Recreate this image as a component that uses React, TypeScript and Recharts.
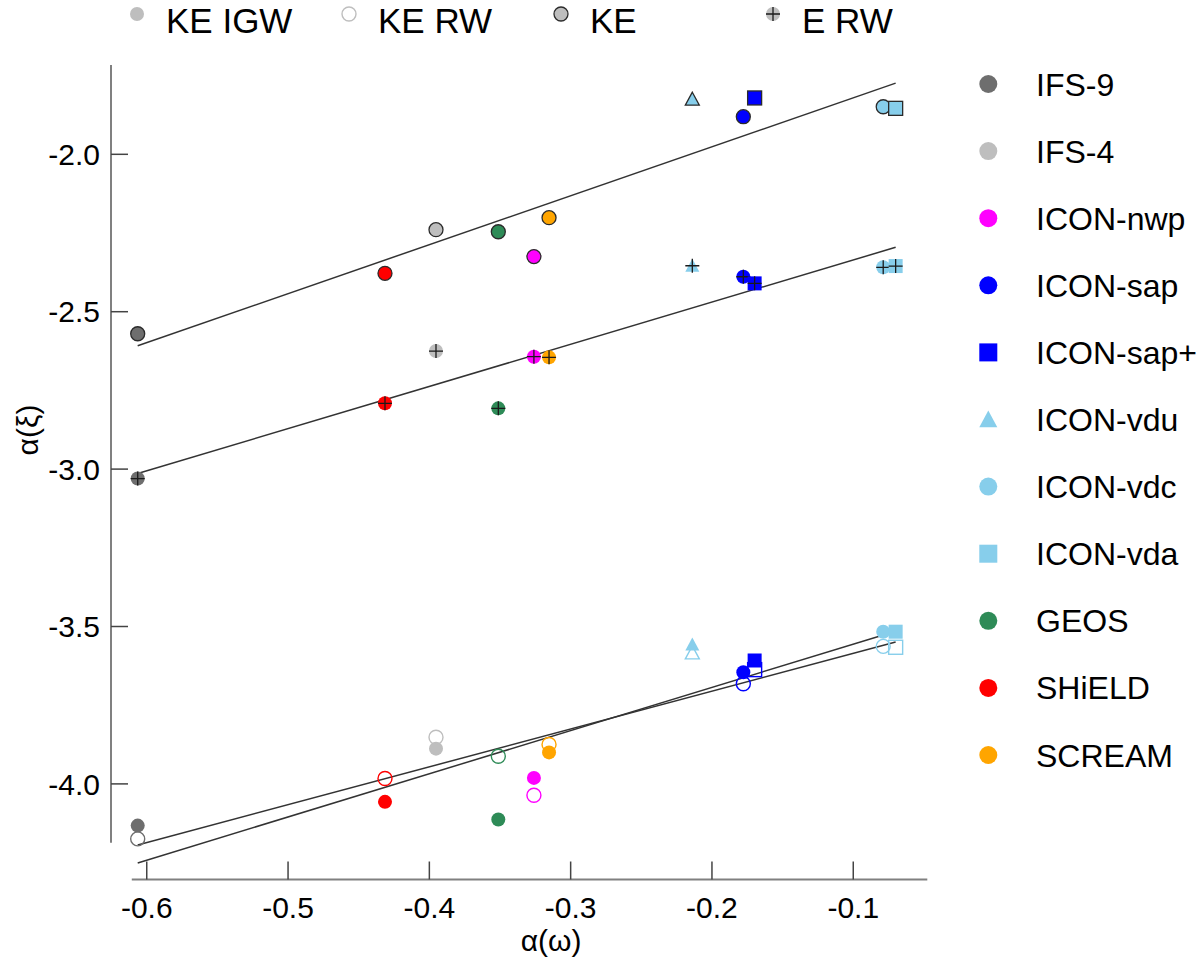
import { ScatterChart, Scatter, XAxis, YAxis, ReferenceLine } from "recharts";

const FONT = '"Liberation Sans", Arial, Helvetica, sans-serif';

// models, in legend order
const models = [
  "IFS-9",
  "IFS-4",
  "ICON-nwp",
  "ICON-sap",
  "ICON-sap+",
  "ICON-vdu",
  "ICON-vdc",
  "ICON-vda",
  "GEOS",
  "SHiELD",
  "SCREAM",
];
const modelColors = [
  "#6e6e6e",
  "#bebebe",
  "#ff00ff",
  "#0000ff",
  "#0000ff",
  "#87ceeb",
  "#87ceeb",
  "#87ceeb",
  "#2e8b57",
  "#ff0000",
  "#ffa500",
];
const modelShapes = [
  "circle",
  "circle",
  "circle",
  "circle",
  "square",
  "triangle",
  "circle",
  "square",
  "circle",
  "circle",
  "circle",
];

// alpha(omega) per model
const alphaOmega = [
  -0.6064, -0.3953, -0.326, -0.1778, -0.1698, -0.2139, -0.0788, -0.07, -0.3512,
  -0.4314, -0.3153,
];

// alpha(xi) per model, one list per quantity
const xiKE = [
  -2.57, -2.2395, -2.325, -1.8806, -1.821, -1.825, -1.849, -1.854, -2.246,
  -2.378, -2.2014,
];
const xiERW = [
  -3.03, -2.625, -2.643, -2.389, -2.41, -2.354, -2.359, -2.355, -2.807, -2.791,
  -2.645,
];
const xiKEIGW = [
  -4.1325, -3.888, -3.981, -3.6455, -3.608, -3.5575, -3.5165, -3.5165, -4.113,
  -4.057, -3.9,
];
const xiKERW = [
  -4.1747, -3.852, -4.036, -3.682, -3.637, -3.584, -3.563, -3.566, -3.912,
  -3.983, -3.875,
];

// fitted lines: end points
const fitX = [-0.6064, -0.07];
const fitKE = [-2.608, -1.774];
const fitERW = [-3.014, -2.2954];
const fitKEIGW = [-4.251, -3.515];
const fitKERW = [-4.194, -3.549];

const quantities = ["KE IGW", "KE RW", "KE", "E RW"];

const xTicks = [-0.6, -0.5, -0.4, -0.3, -0.2, -0.1];
const xTickLabels = ["-0.6", "-0.5", "-0.4", "-0.3", "-0.2", "-0.1"];
const yTicks = [-4.0, -3.5, -3.0, -2.5, -2.0];
const yTickLabels = ["-4.0", "-3.5", "-3.0", "-2.5", "-2.0"];

const xDomain = [-0.6253, -0.0476];
const yDomain = [-4.3037, -1.7163];

const toPoints = (ys) => alphaOmega.map((x, i) => ({ x, y: ys[i], i }));
const toLine = (ys) => fitX.map((x, i) => ({ x, y: ys[i] }));

const styles = {
  "KE IGW": { filled: true, outline: false, plus: false },
  "KE RW": { filled: false, outline: false, plus: false },
  KE: { filled: true, outline: true, plus: false },
  "E RW": { filled: true, outline: false, plus: true },
};

function Marker({ shape, cx, cy, size, color, kind }) {
  const st = styles[kind];
  const h = size / 2;
  const fill = st.filled ? color : "none";
  const stroke = st.outline ? "#2b2b2b" : st.filled ? "none" : color;
  const sw = st.outline ? 1.3 : 1.4;
  let body;
  if (shape === "square") {
    body = (
      <rect x={cx - h} y={cy - h} width={size} height={size} fill={fill} stroke={stroke} strokeWidth={sw} />
    );
  } else if (shape === "triangle") {
    body = (
      <polygon
        points={`${cx},${cy - h} ${cx + h},${cy + h * 0.85} ${cx - h},${cy + h * 0.85}`}
        fill={fill}
        stroke={stroke}
        strokeWidth={sw}
      />
    );
  } else {
    body = <circle cx={cx} cy={cy} r={h} fill={fill} stroke={stroke} strokeWidth={sw} />;
  }
  return (
    <g>
      {body}
      {st.plus && (
        <path
          d={`M${cx - h} ${cy}H${cx + h}M${cx} ${cy - h}V${cy + h}`}
          stroke="#1a1a1a"
          strokeWidth={1.3}
        />
      )}
    </g>
  );
}

const pointShape = (kind) => (props) => {
  const i = props.payload.i;
  return (
    <Marker
      shape={modelShapes[i]}
      cx={props.cx}
      cy={props.cy}
      size={14}
      color={modelColors[i]}
      kind={kind}
    />
  );
};

const XTick = ({ x, y, index }) => (
  <g>
    <line x1={x} y1={y} x2={x} y2={y - 18} stroke="#444" strokeWidth={1.5} />
    <text x={x} y={y + 38.5} textAnchor="middle" fontSize={30} fontFamily={FONT} fill="#000">
      {xTickLabels[index]}
    </text>
  </g>
);

const YTick = ({ x, y, index }) => (
  <g>
    <line x1={x} y1={y} x2={x + 17} y2={y} stroke="#444" strokeWidth={1.5} />
    <text x={x - 11} y={y + 10.7} textAnchor="end" fontSize={30} fontFamily={FONT} fill="#000">
      {yTickLabels[index]}
    </text>
  </g>
);

const XTitle = ({ viewBox }) => (
  <text
    x={viewBox.x + viewBox.width / 2 + 32}
    y={viewBox.y + 71.5}
    textAnchor="middle"
    fontSize={30}
    fontFamily={FONT}
    fill="#000"
  >
    α(ω)
  </text>
);

const YTitle = ({ viewBox }) => {
  const cx = viewBox.x - 23;
  const cy = 430;
  return (
    <text
      x={cx}
      y={cy}
      dy={10}
      transform={`rotate(-90 ${cx} ${cy})`}
      textAnchor="middle"
      fontSize={30}
      fontFamily={FONT}
      fill="#000"
    >
      α(ξ)
    </text>
  );
};

const TopLegend = () => (
  <svg width={1200} height={60} style={{ position: "absolute", left: 0, top: 0 }}>
    {quantities.map((q, k) => {
      const mx = 137 + 212 * k;
      return (
        <g key={q}>
          <Marker shape="circle" cx={mx} cy={14} size={14} color="#bebebe" kind={q} />
          <text x={mx + 29} y={32.5} fontSize={35} fontFamily={FONT} fill="#000">
            {q}
          </text>
        </g>
      );
    })}
  </svg>
);

const ModelLegend = () => (
  <svg width={260} height={800} style={{ position: "absolute", left: 940, top: 40 }}>
    {models.map((m, i) => {
      const cy = 44 + 67.1 * i;
      return (
        <g key={m}>
          <Marker shape={modelShapes[i]} cx={48.3} cy={cy} size={18} color={modelColors[i]} kind="KE IGW" />
          <text x={96} y={cy + 11.5} fontSize={32} fontFamily={FONT} fill="#000">
            {m}
          </text>
        </g>
      );
    })}
  </svg>
);

export default function App() {
  return (
    <div style={{ position: "absolute", left: 0, top: 0, width: 1200, height: 960, background: "#fff" }}>
      <ScatterChart width={1200} height={960} margin={{ top: 65, right: 272.7, bottom: 0.5, left: 51 }}>
        <XAxis
          type="number"
          dataKey="x"
          domain={xDomain}
          ticks={xTicks}
          allowDataOverflow
          interval={0}
          axisLine={false}
          tickLine={false}
          tickSize={0}
          tickMargin={0}
          height={80}
          tick={(p) => <XTick {...p} />}
          label={{ content: (p) => <XTitle {...p} /> }}
        />
        <YAxis
          type="number"
          dataKey="y"
          domain={yDomain}
          ticks={yTicks}
          allowDataOverflow
          interval={0}
          axisLine={false}
          tickLine={false}
          tickSize={0}
          tickMargin={0}
          width={60}
          tick={(p) => <YTick {...p} />}
          label={{ content: (p) => <YTitle {...p} /> }}
        />
        <ReferenceLine
          segment={[
            { x: -0.6106, y: yDomain[0] },
            { x: xDomain[1], y: yDomain[0] },
          ]}
          stroke="#808080"
          strokeWidth={2}
          ifOverflow="visible"
        />
        <ReferenceLine
          segment={[
            { x: xDomain[0], y: yDomain[1] },
            { x: xDomain[0], y: -4.1868 },
          ]}
          stroke="#808080"
          strokeWidth={2}
          ifOverflow="visible"
        />
        {[fitKE, fitERW, fitKEIGW, fitKERW].map((f, k) => (
          <Scatter
            key={`fit${k}`}
            data={toLine(f)}
            line={{ stroke: "#333", strokeWidth: 1.5 }}
            shape={() => <g />}
            isAnimationActive={false}
          />
        ))}
        <Scatter data={toPoints(xiKEIGW)} shape={pointShape("KE IGW")} isAnimationActive={false} />
        <Scatter data={toPoints(xiKERW)} shape={pointShape("KE RW")} isAnimationActive={false} />
        <Scatter data={toPoints(xiKE)} shape={pointShape("KE")} isAnimationActive={false} />
        <Scatter data={toPoints(xiERW)} shape={pointShape("E RW")} isAnimationActive={false} />
      </ScatterChart>
      <TopLegend />
      <ModelLegend />
    </div>
  );
}
